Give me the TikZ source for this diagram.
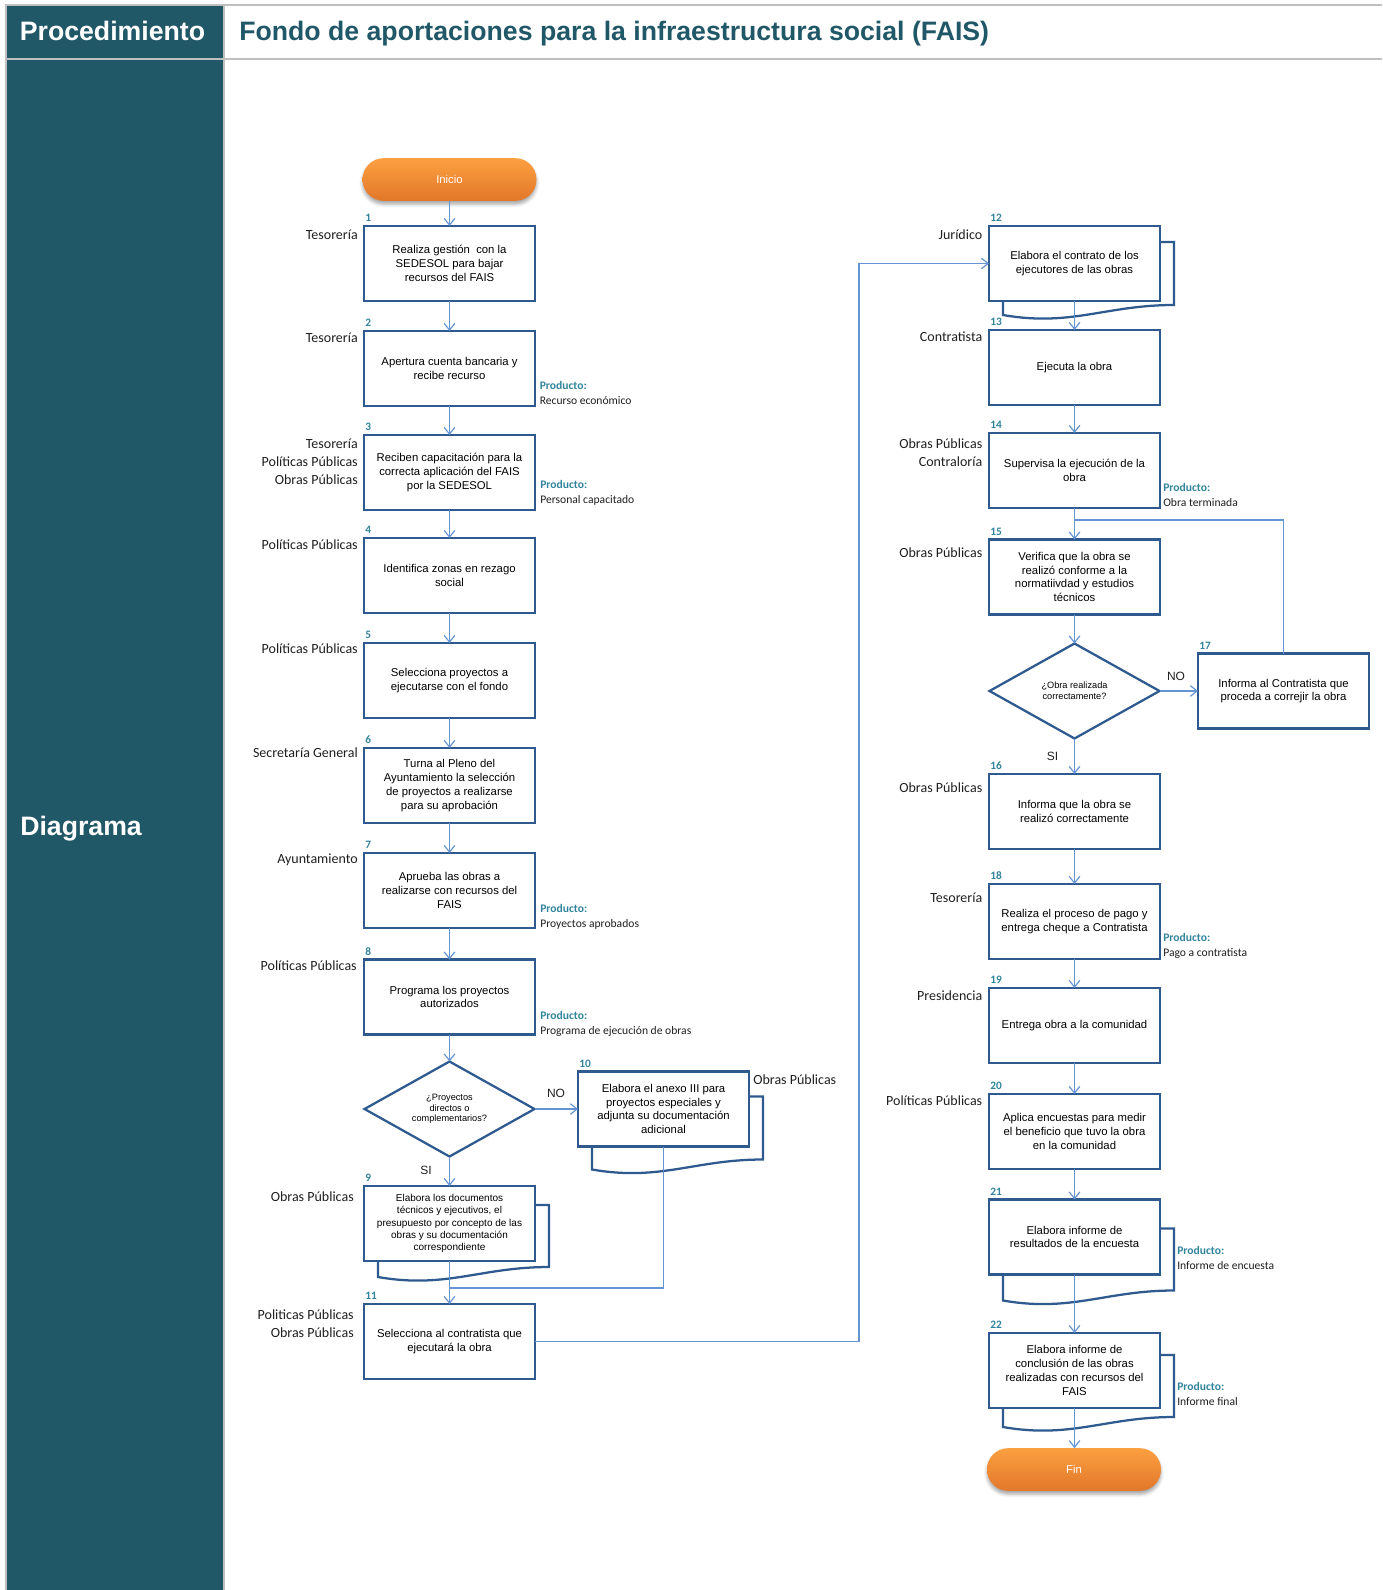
\documentclass[tikz,border=0pt]{standalone}
\usepackage{fontspec}
\setmainfont{Liberation Sans}
\newfontfamily\carl{Carlito}
\usetikzlibrary{arrows.meta,shapes.geometric,calc,shadows.blur}
\definecolor{boxc}{HTML}{2F5A8F}
\definecolor{connc}{HTML}{6495D2}
\definecolor{tealc}{HTML}{215868}
\definecolor{framec}{HTML}{BFBFBF}
\definecolor{numc}{HTML}{31849B}
\definecolor{rolec}{HTML}{1F1F1F}
\definecolor{termtop}{HTML}{FBA040}
\definecolor{termbot}{HTML}{E2772A}
\newcommand\docback[4]{%
  \draw[docl] ($(#1.north east)+(0,#2)$) -- ($(#1.north east)+(14,#2)$) -- ($(#1.south east)+(14,#3)$)
    .. controls ($(#1.south)+(31,#3)$) and ($(#1.south)+(-3,#4+12)$) .. ($(#1.south west)+(14,#4)$)
    -- ($(#1.south west)+(14,0)$);}
\begin{document}
\begin{tikzpicture}[x=0.75pt,y=-0.75pt,
  box/.style={draw=boxc, line width=1.7pt, fill=white, minimum width=128.25pt, minimum height=56.25pt, inner sep=0pt, outer sep=0pt, align=center, font=\fontsize{8.5}{10.3}\selectfont},
  dec/.style={diamond, aspect=1.8, draw=boxc, line width=1.7pt, fill=white, minimum width=127.5pt, minimum height=71.25pt, inner sep=0pt, outer sep=0pt, align=center, font=\fontsize{6.9}{8}\selectfont},
  term/.style={rectangle, rounded corners=15.9pt, minimum width=130.5pt, minimum height=32pt, inner sep=0pt, outer sep=0pt, top color=termtop, bottom color=termbot, draw=none, text=white, font=\fontsize{8.5}{10}\selectfont, blur shadow={shadow xshift=0pt,shadow yshift=-2.5pt,shadow blur radius=2.5pt,shadow opacity=35}},
  conn/.style={draw=connc, line width=0.9pt, -{Straight Barb[length=5pt,width=8pt]}},
  link/.style={draw=connc, line width=0.9pt},
  docl/.style={draw=boxc, line width=1.7pt, line join=miter},
  role/.style={font=\carl\fontsize{10.5}{13.5}\selectfont, inner sep=0pt, align=right, anchor=north east, text=rolec},
  rolel/.style={role, align=left, anchor=north west},
  num/.style={font=\carl\bfseries\fontsize{8.5}{9}\selectfont, text=numc, inner sep=0pt, anchor=west},
  prod/.style={font=\carl\fontsize{8.7}{11}\selectfont, inner sep=0pt, align=left, anchor=north west, text=rolec},
  yn/.style={font=\fontsize{9}{10}\selectfont, inner sep=0pt, text=rolec},
  frame/.style={draw=framec, line width=1.5pt}
]
\useasboundingbox (0,0) rectangle (1382,1590);
% frame
\fill[tealc] (6,5) rectangle (223.7,1590);
\draw[frame] (6,5) -- (1382,5);
\draw[frame] (6,59) -- (1382,59);
\draw[frame] (6,4) -- (6,1590);
\draw[frame] (223.7,4) -- (223.7,1590);
\node[anchor=base, text=white, font=\bfseries\fontsize{20}{24}\selectfont, inner sep=0pt] (proc) at (112.5,41) {Procedimiento};
\node[anchor=base west, text=tealc, font=\bfseries\fontsize{20}{24}\selectfont, inner sep=0pt] (title) at (239,41) {Fondo de aportaciones para la infraestructura social (FAIS)};
\node[anchor=base west, text=white, font=\bfseries\fontsize{20}{24}\selectfont, inner sep=0pt] (diag) at (20,835.5) {Diagrama};

% left column
\node[term] (ini) at (449.5,179.5) {Inicio};
\node[box] (b1) at (449.5,263.5) {Realiza gestión\ \ con la\\SEDESOL para bajar\\recursos del FAIS};
\node[box] (b2) at (449.5,368.5) {Apertura cuenta bancaria y\\recibe recurso};
\node[box] (b3) at (449.5,472.5) {Reciben capacitación para la\\correcta aplicación del FAIS\\por la SEDESOL};
\node[box] (b4) at (449.5,575.5) {Identifica zonas en rezago\\social};
\node[box] (b5) at (449.5,680.5) {Selecciona proyectos a\\ejecutarse con el fondo};
\node[box] (b6) at (449.5,785.5) {Turna al Pleno del\\Ayuntamiento la selección\\de proyectos a realizarse\\para su aprobación};
\node[box] (b7) at (449.5,890.5) {Aprueba las obras a\\realizarse con recursos del\\FAIS};
\node[box] (b8) at (449.5,997) {Programa los proyectos\\autorizados};
\node[dec] (d1) at (449.5,1109) {¿Proyectos\\directos o\\complementarios?};
\node[box, font=\fontsize{7.5}{9.1}\selectfont] (b9) at (449.5,1223.5) {Elabora los documentos\\técnicos y ejecutivos, el\\presupuesto por concepto de las\\obras y su documentación\\correspondiente};
\node[box] (b10) at (663.5,1109) {Elabora el anexo III para\\proyectos especiales y\\adjunta su documentación\\adicional};
\node[box] (b11) at (449.5,1341.5) {Selecciona al contratista que\\ejecutará la obra};

% right column
\node[box] (b12) at (1074.5,263.5) {Elabora el contrato de los\\ejecutores de las obras};
\node[box] (b13) at (1074.5,367.5) {Ejecuta la obra};
\node[box] (b14) at (1074.5,470.5) {Supervisa la ejecución de la\\obra};
\node[box] (b15) at (1074.5,577) {Verifica que la obra se\\realizó conforme a la\\normatiivdad y estudios\\técnicos};
\node[dec] (d2) at (1074.5,691) {¿Obra realizada\\correctamente?};
\node[box] (b17) at (1283.5,691) {Informa al Contratista que\\proceda a correjir la obra};
\node[box] (b16) at (1074.5,811.5) {Informa que la obra se\\realizó correctamente};
\node[box] (b18) at (1074.5,921.5) {Realiza el proceso de pago y\\entrega cheque a Contratista};
\node[box] (b19) at (1074.5,1025.5) {Entrega obra a la comunidad};
\node[box] (b20) at (1074.5,1131.5) {Aplica encuestas para medir\\el beneficio que tuvo la obra\\en la comunidad};
\node[box] (b21) at (1074.5,1237) {Elabora informe de\\resultados de la encuesta};
\node[box] (b22) at (1074.5,1370.5) {Elabora informe de\\conclusión de las obras\\realizadas con recursos del\\FAIS};
\node[term] (fin) at (1074,1469.5) {Fin};

% document back sheets
\docback{b9}{19}{6}{16}
\docback{b10}{25}{13}{23}
\docback{b12}{16}{4}{14}
\docback{b21}{29}{16}{26}
\docback{b22}{22}{9}{19}

% numbers
\foreach \b/\t in {b1/1,b2/2,b3/3,b4/4,b5/5,b6/6,b7/7,b8/8,b9/9,b10/10,b11/11,b12/12,b13/13,b14/14,b15/15,b16/16,b17/17,b18/18,b19/19,b20/20,b21/21,b22/22}
  \node[num] (n\t) at ($(\b.north west)+(1,-8)$) {\t};

% roles
\node[role] (r1) at (358,230) {Tesorería};
\node[role] (r2) at (358,333) {Tesorería};
\node[role] (r3) at (358,439) {Tesorería\\Políticas Públicas\\Obras Públicas};
\node[role] (r4) at (358,539.5) {Políticas Públicas};
\node[role] (r5) at (358,644) {Políticas Públicas};
\node[role] (r6) at (358,748) {Secretaría General};
\node[role] (r7) at (358,854) {Ayuntamiento};
\node[role] (r8) at (357,961) {Políticas Públicas};
\node[role] (r9) at (354,1191.5) {Obras Públicas};
\node[rolel] (r10) at (753,1075) {Obras Públicas};
\node[role] (r11) at (354,1309) {Politicas Públicas\\Obras Públicas};
\node[role] (r12) at (982.5,230) {Jurídico};
\node[role] (r13) at (982.5,331.6) {Contratista};
\node[role] (r14) at (982.5,439) {Obras Públicas\\Contraloría};
\node[role] (r15) at (982.5,547.6) {Obras Públicas};
\node[role] (r16) at (982.5,783) {Obras Públicas};
\node[role] (r18) at (982.5,893) {Tesorería};
\node[role] (r19) at (982.5,991) {Presidencia};
\node[role] (r20) at (982.5,1096) {Políticas Públicas};

% products
\node[prod] (p2) at (539.5,381.5) {\textcolor{numc}{\bfseries Producto:}\\Recurso económico};
\node[prod] (p3) at (540,480.5) {\textcolor{numc}{\bfseries Producto:}\\Personal capacitado};
\node[prod] (p7) at (540,904) {\textcolor{numc}{\bfseries Producto:}\\Proyectos aprobados};
\node[prod] (p8) at (540,1011.5) {\textcolor{numc}{\bfseries Producto:}\\Programa de ejecución de obras};
\node[prod] (p14) at (1163,483.5) {\textcolor{numc}{\bfseries Producto:}\\Obra terminada};
\node[prod] (p18) at (1163,933.5) {\textcolor{numc}{\bfseries Producto:}\\Pago a contratista};
\node[prod] (p21) at (1177,1246.5) {\textcolor{numc}{\bfseries Producto:}\\Informe de encuesta};
\node[prod] (p22) at (1177,1382.5) {\textcolor{numc}{\bfseries Producto:}\\Informe final};

% yes / no labels
\node[yn] (no1) at (556,1093) {NO};
\node[yn] (si1) at (426,1170) {SI};
\node[yn] (no2) at (1176,676) {NO};
\node[yn] (si2) at (1052.5,756.5) {SI};

% helper coordinates
\coordinate (k10) at (449.5,1288);
\coordinate (k11) at (859,1341.5);
\coordinate (k17) at (1283.5,520);
\coordinate (k15) at (1074.5,520);

% connectors
\draw[conn] (ini) -- (b1);
\draw[conn] (b1) -- (b2);
\draw[conn] (b2) -- (b3);
\draw[conn] (b3) -- (b4);
\draw[conn] (b4) -- (b5);
\draw[conn] (b5) -- (b6);
\draw[conn] (b6) -- (b7);
\draw[conn] (b7) -- (b8);
\draw[conn] (b8) -- (d1);
\draw[conn] (d1) -- (b9);
\draw[conn] (d1) -- (b10);
\draw[conn] (b9) -- (b11);
\draw[link] (b10.south) |- (k10);
\draw[conn] (b11.east) -- (k11) |- (b12.west);
\draw[conn] (b12) -- (b13);
\draw[conn] (b13) -- (b14);
\draw[conn] (b14) -- (b15);
\draw[conn] (b15) -- (d2);
\draw[conn] (d2) -- (b17);
\draw[link] (b17.north) -- (k17) -- (k15);
\draw[conn] (d2) -- (b16);
\draw[conn] (b16) -- (b18);
\draw[conn] (b18) -- (b19);
\draw[conn] (b19) -- (b20);
\draw[conn] (b20) -- (b21);
\draw[conn] (b21) -- (b22);
\draw[conn] (b22) -- (fin.north -| b22.south);
\end{tikzpicture}
\end{document}
